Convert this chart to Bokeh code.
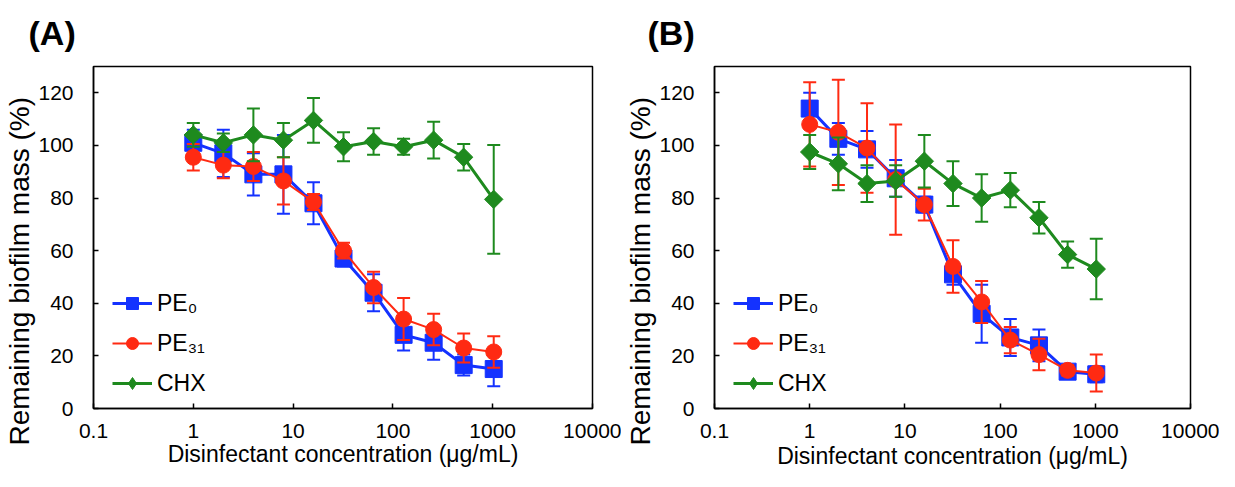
from bokeh.plotting import figure
from bokeh.layouts import row
from bokeh.models import (Legend, LegendItem, FixedTicker, PrintfTickFormatter,
                          ColumnDataSource, Range1d, Title)
from bokeh.embed import file_html
from bokeh.resources import INLINE
import numpy as np

# ---------------- data ----------------
conc = [1, 2, 4, 8, 16, 32, 64, 128, 256, 512, 1024]

pe0_a = [101, 97, 89, 89, 78, 57, 44, 28, 25, 16.5, 15]
pe0_a_err = [5, 9, 8, 15, 8, 3, 7, 6, 6.5, 4, 6.5]
pe31_a = [95.5, 92.5, 92, 86.5, 78.5, 60, 46, 34, 30, 23, 21.5]
pe31_a_err = [5, 5, 5.5, 9, 3, 3, 6, 8, 6, 5.5, 6]
chx_a = [104, 101, 104, 102, 109.5, 99.5, 101.5, 99.5, 102, 95.5, 79.5]
chx_a_err = [4.5, 3.5, 10, 6.5, 8.5, 5.5, 5, 3, 7, 5, 20.7]

pe0_b = [114, 102.5, 98.5, 87.5, 77.5, 51, 36, 27, 24, 14, 13]
pe0_b_err = [6, 6, 7, 7, 3, 4, 11, 7, 6, 2.5, 3]
pe31_b = [108, 105, 99, 87, 77.5, 54, 40.5, 26, 20.5, 14.5, 13.5]
pe31_b_err = [16, 20, 17, 21, 6, 10, 8, 5, 6, 2, 7]
chx_b = [97.5, 93, 85.5, 86.5, 94, 85.5, 80, 83, 72.5, 58.5, 53]
chx_b_err = [6.5, 10, 7, 6, 10, 8.5, 9, 6.5, 6, 5, 11.5]

series_names = ["PE\u2080", "PE\u2083\u2081", "CHX"]
x_ticks = [0.1, 1, 10, 100, 1000, 10000]
y_ticks = [0, 20, 40, 60, 80, 100, 120]
x_label = "Disinfectant concentration (\u03bcg/mL)"
y_label = "Remaining biofilm mass (%)"

BLUE = "#1432FF"
RED = "#FF2A12"
GREEN = "#1E8A1E"
FONT = "Liberation Sans"


def make_panel(title, data, width, height, borders, title_offset, ylab_offset,
               tick_standoff, xlabel_standoff):
    left, right, top, bottom = borders
    p = figure(width=width, height=height, x_axis_type="log",
               x_range=Range1d(x_ticks[0], x_ticks[-1]), y_range=Range1d(0, 130),
               output_backend="svg", toolbar_location=None,
               min_border_left=left, min_border_right=right,
               min_border_top=top, min_border_bottom=bottom)
    p.xgrid.visible = False
    p.ygrid.visible = False
    p.outline_line_color = "black"
    p.outline_line_width = 1.5
    p.background_fill_color = "white"
    p.border_fill_color = "white"

    p.title.text = title
    p.title.text_font = FONT
    p.title.text_font_size = "34px"
    p.title.text_font_style = "bold"
    p.title.text_color = "black"
    p.title.align = "left"
    p.title.vertical_align = "top"
    p.title.offset = title_offset
    p.title.standoff = 26

    for ax in (p.xaxis[0], p.yaxis[0]):
        ax.axis_line_color = "black"
        ax.axis_line_width = 1.5
        ax.major_tick_in = 5
        ax.major_tick_out = 0
        ax.major_tick_line_width = 1.5
        ax.minor_tick_in = 0
        ax.minor_tick_out = 0
        ax.major_label_text_font = FONT
        ax.major_label_text_font_size = "21px"
        ax.major_label_text_color = "black"
        ax.axis_label_text_font = FONT
        ax.axis_label_text_font_style = "normal"
        ax.axis_label_text_color = "black"

    p.xaxis.ticker = FixedTicker(ticks=x_ticks)
    p.xaxis.formatter = PrintfTickFormatter(format="%g")
    p.xaxis.major_label_standoff = tick_standoff
    p.xaxis.axis_label = x_label
    p.xaxis.axis_label_text_font_size = "23px"
    p.xaxis.axis_label_standoff = xlabel_standoff

    p.yaxis.ticker = FixedTicker(ticks=y_ticks)
    p.yaxis.major_label_standoff = 20
    # y label as a side title, anchored at its start so it can sit lower, as in the original
    p.add_layout(Title(text=y_label, align="left", offset=ylab_offset,
                       standoff=2, text_font=FONT, text_font_size="28px",
                       text_font_style="normal", text_color="black"), "left")

    items = []
    styles = [
        (BLUE, 3, "square", 17, 0.0, None),
        (RED, 2, "circle", 16, 0.0, None),
        (GREEN, 3, "square", 13, np.pi / 4, "diamond"),
    ]
    for name, (vals, errs), (color, lw, marker, size, angle, lmark) in zip(series_names, data, styles):
        lo = [v - e for v, e in zip(vals, errs)]
        hi = [v + e for v, e in zip(vals, errs)]
        src = ColumnDataSource(dict(x=conc, y=vals, lo=lo, hi=hi))
        p.segment(x0="x", y0="lo", x1="x", y1="hi", source=src,
                  line_color=color, line_width=2)
        p.scatter(x="x", y="lo", source=src, marker="dash", size=13,
                  line_color=color, line_width=2)
        p.scatter(x="x", y="hi", source=src, marker="dash", size=13,
                  line_color=color, line_width=2)
        ln = p.line(x="x", y="y", source=src, line_color=color, line_width=lw)
        sc = p.scatter(x="x", y="y", source=src, marker=marker, size=size,
                       angle=angle, fill_color=color, line_color=color)
        if lmark is not None:
            # legend-only marker (NaN point is not drawn in the plot)
            sc = p.scatter(x=np.array([np.nan]), y=np.array([np.nan]), marker=lmark,
                           size=size, fill_color=color, line_color=color)
        items.append(LegendItem(label=name, renderers=[ln, sc]))

    legend = Legend(items=items, location=(19, 10), margin=0, padding=0,
                    glyph_width=40, glyph_height=30, label_height=30,
                    spacing=10, label_standoff=5,
                    label_text_font=FONT, label_text_font_size="23px",
                    label_text_color="black",
                    background_fill_alpha=0, border_line_alpha=0)
    p.add_layout(legend, "center")
    return p


pA = make_panel("(A)", [(pe0_a, pe0_a_err), (pe31_a, pe31_a_err), (chx_a, chx_a_err)],
                621, 471, (93, 29, 66, 63), -65, -37, 15, 0)
pB = make_panel("(B)", [(pe0_b, pe0_b_err), (pe31_b, pe31_b_err), (chx_b, chx_b_err)],
                598, 471, (87, 29, 66, 63), -67, -37, 15, 2)

layout = row(pA, pB)
open("out.html", "w").write(file_html(layout, INLINE))
